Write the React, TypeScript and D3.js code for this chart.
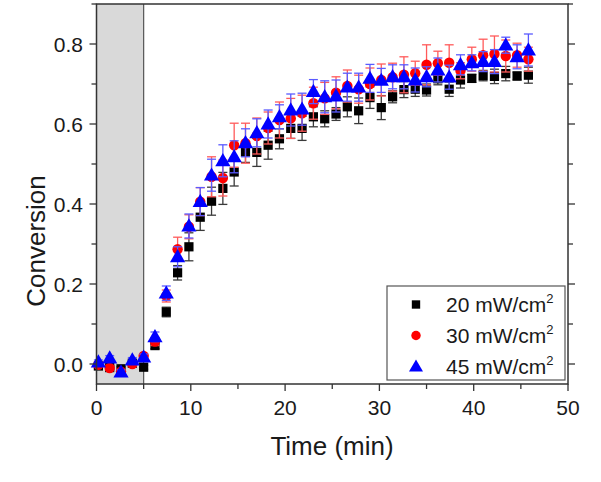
import React from "react";
import * as d3 from "d3";

const times = [0.2, 1.4, 2.6, 3.8, 5.0, 6.2, 7.4, 8.6, 9.8, 11.0, 12.2, 13.4, 14.6, 15.8, 17.0, 18.2, 19.4, 20.6, 21.8, 23.0, 24.2, 25.4, 26.6, 27.8, 29.0, 30.2, 31.4, 32.6, 33.8, 35.0, 36.2, 37.4, 38.6, 39.8, 41.0, 42.2, 43.4, 44.6, 45.8];

const s20 = [-0.005, -0.009, -0.012, 0.002, -0.008, 0.046, 0.13, 0.228, 0.293, 0.367, 0.407, 0.439, 0.48, 0.529, 0.529, 0.547, 0.563, 0.589, 0.589, 0.618, 0.613, 0.625, 0.643, 0.633, 0.666, 0.641, 0.668, 0.686, 0.687, 0.685, 0.713, 0.687, 0.71, 0.714, 0.721, 0.719, 0.726, 0.72, 0.722];
const e20 = [0.005, 0.005, 0.005, 0.005, 0.005, 0.008, 0.012, 0.018, 0.035, 0.033, 0.035, 0.04, 0.035, 0.025, 0.035, 0.035, 0.025, 0.025, 0.03, 0.025, 0.02, 0.016, 0.025, 0.032, 0.027, 0.03, 0.015, 0.02, 0.018, 0.015, 0.015, 0.018, 0.02, 0.01, 0.013, 0.018, 0.018, 0.01, 0.02];

const s30 = [-0.002, -0.01, -0.019, 0.0, 0.02, 0.056, 0.17, 0.287, 0.343, 0.406, 0.468, 0.465, 0.547, 0.552, 0.57, 0.59, 0.61, 0.614, 0.627, 0.652, 0.664, 0.678, 0.695, 0.687, 0.7, 0.71, 0.717, 0.723, 0.727, 0.748, 0.752, 0.753, 0.733, 0.762, 0.772, 0.775, 0.77, 0.772, 0.762];
const e30 = [0.005, 0.005, 0.005, 0.005, 0.006, 0.01, 0.015, 0.03, 0.03, 0.035, 0.05, 0.045, 0.055, 0.05, 0.045, 0.04, 0.045, 0.05, 0.045, 0.04, 0.04, 0.04, 0.04, 0.035, 0.04, 0.04, 0.035, 0.045, 0.03, 0.05, 0.03, 0.045, 0.02, 0.03, 0.04, 0.045, 0.04, 0.03, 0.03];

const s45 = [0.005, 0.015, -0.02, 0.01, 0.017, 0.068, 0.177, 0.268, 0.345, 0.406, 0.472, 0.508, 0.518, 0.553, 0.578, 0.6, 0.618, 0.635, 0.637, 0.681, 0.668, 0.67, 0.692, 0.692, 0.714, 0.709, 0.718, 0.718, 0.71, 0.718, 0.735, 0.717, 0.748, 0.753, 0.756, 0.756, 0.797, 0.768, 0.785];
const e45 = [0.005, 0.006, 0.005, 0.006, 0.008, 0.012, 0.018, 0.025, 0.03, 0.035, 0.04, 0.04, 0.04, 0.035, 0.035, 0.035, 0.03, 0.04, 0.04, 0.03, 0.04, 0.04, 0.035, 0.035, 0.035, 0.03, 0.03, 0.03, 0.03, 0.025, 0.03, 0.03, 0.025, 0.02, 0.025, 0.03, 0.02, 0.03, 0.04];

const seriesNames = ["20 mW/cm", "30 mW/cm", "45 mW/cm"];
const xTicks = [0, 10, 20, 30, 40, 50];
const yTicks = [0.0, 0.2, 0.4, 0.6, 0.8];

const W = 601, H = 482;
const L = 96.5, R = 568, T = 4, B = 384;
const FONT = "'Liberation Sans', Arial, sans-serif";

export default function App() {
  const x = d3.scaleLinear().domain([0, 50]).range([L, R]);
  const y = d3.scaleLinear().domain([-0.05, 0.9]).range([B, T]);

  const series = [
    { name: seriesNames[0], vals: s20, errs: e20, color: "#000000", bar: "#3a3a3a", shape: "square" },
    { name: seriesNames[1], vals: s30, errs: e30, color: "#ff0000", bar: "#ff5a5a", shape: "circle" },
    { name: seriesNames[2], vals: s45, errs: e45, color: "#0000ff", bar: "#5a5aff", shape: "triangle" },
  ];

  const sym = (shape: string, size: number) =>
    d3.symbol().type(shape === "square" ? d3.symbolSquare : shape === "circle" ? d3.symbolCircle : d3.symbolTriangle).size(size)() as string;
  const sizeOf = (shape: string) => (shape === "square" ? 85 : shape === "circle" ? 85 : 100);

  const axisColor = "#333";
  const xMinor = d3.range(0, 51, 5);
  const yMinor = d3.range(0, 0.91, 0.1);
  const rowY = [304.5, 335.5, 366.5];

  return (
    <svg width={W} height={H} style={{ position: "absolute", left: 0, top: 0, background: "#fff" }} fontFamily={FONT}>
      <rect x={x(0)} y={T} width={x(5) - x(0)} height={B - T} fill="#d9d9d9" />
      <line x1={x(5)} x2={x(5)} y1={T} y2={B} stroke="#555" strokeWidth={1.2} />

      {series.map((s, si) => (
        <g key={si}>
          {s.vals.map((v, i) => {
            const cx = x(times[i]);
            const y1 = y(v + s.errs[i]);
            const y2 = y(v - s.errs[i]);
            return (
              <g key={i} stroke={s.bar} strokeWidth={1.3}>
                <line x1={cx} x2={cx} y1={y1} y2={y2} />
                <line x1={cx - 4.5} x2={cx + 4.5} y1={y1} y2={y1} />
                <line x1={cx - 4.5} x2={cx + 4.5} y1={y2} y2={y2} />
              </g>
            );
          })}
          {s.vals.map((v, i) => (
            <path key={"m" + i} d={sym(s.shape, sizeOf(s.shape))} transform={`translate(${x(times[i])},${y(v) + (s.shape === "triangle" ? 1 : 0)})`} fill={s.color} />
          ))}
        </g>
      ))}

      <rect x={L} y={T} width={R - L} height={B - T} fill="none" stroke={axisColor} strokeWidth={1.5} />

      {xMinor.map((t) => (
        <line key={"xt" + t} x1={x(t)} x2={x(t)} y1={B} y2={B + (t % 10 === 0 ? 7 : 5)} stroke={axisColor} strokeWidth={1.3} />
      ))}
      {xTicks.map((t) => (
        <text key={"xl" + t} x={x(t)} y={415} textAnchor="middle" fontSize={21} fill="#1a1a1a">{t}</text>
      ))}
      {yMinor.map((t, i) => (
        <g key={"yt" + i} stroke={axisColor} strokeWidth={1.3}>
          <line x1={L} x2={L - (i % 2 === 0 ? 7 : 5)} y1={y(t)} y2={y(t)} />
          <line x1={R} x2={R + (i % 2 === 0 ? 7 : 5)} y1={y(t)} y2={y(t)} />
        </g>
      ))}
      {yTicks.map((t) => (
        <text key={"yl" + t} x={83} y={y(t) + 7.5} textAnchor="end" fontSize={21} fill="#1a1a1a">{t.toFixed(1)}</text>
      ))}

      <text x={332} y={455} textAnchor="middle" fontSize={26} fill="#1a1a1a">Time (min)</text>
      <text transform={`translate(45,241) rotate(-90)`} textAnchor="middle" fontSize={26} fill="#1a1a1a">Conversion</text>

      <rect x={387} y={286} width={178} height={94} fill="#fff" stroke="#555" strokeWidth={1.2} />
      {series.map((s, i) => (
        <g key={"lg" + i}>
          <path d={sym(s.shape, s.shape === "triangle" ? 85 : 70)} transform={`translate(416,${rowY[i] + (s.shape === "triangle" ? 1 : 0)})`} fill={s.color} />
          <text x={446} y={rowY[i] + 7.5} fontSize={21} fill="#1a1a1a">
            {s.name}
            <tspan dy={-9} fontSize={13}>2</tspan>
          </text>
        </g>
      ))}
    </svg>
  );
}
